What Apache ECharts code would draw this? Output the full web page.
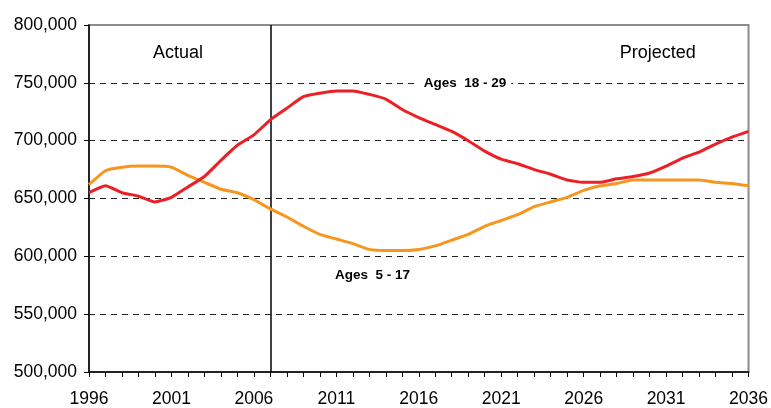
<!DOCTYPE html>
<html>
<head>
<meta charset="utf-8">
<script src="https://cdn.jsdelivr.net/npm/echarts@6/dist/echarts.min.js"></script>
<style>
  html, body { margin: 0; padding: 0; background: #fff; }
  #chart { width: 771px; height: 408px; }
</style>
</head>
<body>
<div id="chart"></div>
<script>
// years 1996..2036
var years = [];
for (var y = 1996; y <= 2036; y++) years.push(y);

var ages18to29 = [655000, 661000, 655000, 652000, 647000, 651000, 660000, 669000, 683000, 696000,
  705000, 718000, 728000, 738000, 741000, 743000, 743000, 740000, 736000, 727000,
  720000, 714000, 708000, 700000, 691000, 684000, 680000, 675000, 671000, 666000,
  664000, 664000, 667000, 669000, 672000, 678000, 685000, 690000, 697000, 703000, 708000];

var ages5to17 = [662000, 674000, 677000, 678000, 678000, 677000, 670000, 664000, 658000, 655000,
  649000, 641000, 634000, 626000, 619000, 615000, 611000, 606000, 605000, 605000,
  606000, 609000, 614000, 619000, 626000, 631000, 636000, 643000, 647000, 651000,
  657000, 661000, 663000, 666000, 666000, 666000, 666000, 666000, 664000, 663000, 661000];

var gridValues = [550000, 600000, 650000, 700000, 750000];
var splitYear = 2007;

function pairs(vals) {
  return vals.map(function (v, i) { return [years[i], v]; });
}

var chart = echarts.init(document.getElementById('chart'));
chart.setOption({
  animation: false,
  grid: {
    left: 89, right: 19, top: 25, bottom: 36,
    show: true, borderColor: '#8c8c8c', borderWidth: 2
  },
  xAxis: {
    type: 'value',
    min: 1996, max: 2036, interval: 1,
    axisLine: { lineStyle: { color: '#000', width: 1.5 } },
    axisTick: { show: true, length: 5, lineStyle: { color: '#000' } },
    splitLine: { show: false },
    axisLabel: {
      color: '#000', fontSize: 17.5, fontFamily: 'Liberation Sans, Arial', margin: 18,
      formatter: function (v) { return (v - 1996) % 5 === 0 ? String(v) : ''; }
    }
  },
  yAxis: {
    type: 'value',
    min: 500000, max: 800000, interval: 50000,
    axisLine: { show: true, lineStyle: { color: '#000', width: 1.5 } },
    axisTick: { show: true, length: 5, lineStyle: { color: '#000' } },
    splitLine: { show: false },
    axisLabel: {
      color: '#000', fontSize: 17.5, fontFamily: 'Liberation Sans, Arial', margin: 12,
      formatter: function (v) { return v.toLocaleString('en-US'); }
    }
  },
  series: [
    {
      name: 'grid',
      type: 'line',
      data: [],
      silent: true,
      markLine: {
        symbol: 'none', silent: true, z: 1,
        label: { show: false },
        lineStyle: { color: '#222', type: [6, 5], width: 1 },
        data: gridValues.map(function (v) { return { yAxis: v }; })
          .concat([{ xAxis: splitYear, lineStyle: { type: 'solid', width: 1.5, color: '#000' } }])
      },
      markPoint: {
        symbol: 'rect', symbolSize: 0, silent: true,
        label: { show: true, color: '#000', fontFamily: 'Liberation Sans, Arial', fontSize: 18 },
        data: [
          { coord: [2001.4, 776000], value: 'Actual', label: { formatter: 'Actual' } },
          { coord: [2030.5, 776000], value: 'Projected', label: { formatter: 'Projected' } }
        ]
      }
    },
    {
      name: 'Ages 18-29',
      type: 'line',
      data: pairs(ages18to29),
      showSymbol: false,
      smooth: 0.15,
      z: 3,
      lineStyle: { color: '#ec1f26', width: 3 },
      markPoint: {
        symbol: 'rect', symbolSize: 0, silent: true,
        label: {
          show: true, color: '#000', fontFamily: 'Liberation Sans, Arial', fontSize: 13.5,
          fontWeight: 'bold', backgroundColor: '#fff', padding: [2, 5],
          formatter: 'Ages  18 - 29'
        },
        data: [{ coord: [2018.8, 749500] }]
      }
    },
    {
      name: 'Ages 5-17',
      type: 'line',
      data: pairs(ages5to17),
      showSymbol: false,
      smooth: 0.15,
      z: 2,
      lineStyle: { color: '#f7961e', width: 3 },
      markPoint: {
        symbol: 'rect', symbolSize: 0, silent: true,
        label: {
          show: true, color: '#000', fontFamily: 'Liberation Sans, Arial', fontSize: 13.5,
          fontWeight: 'bold', formatter: 'Ages  5 - 17'
        },
        data: [{ coord: [2013.2, 583500] }]
      }
    }
  ]
});
</script>
</body>
</html>
